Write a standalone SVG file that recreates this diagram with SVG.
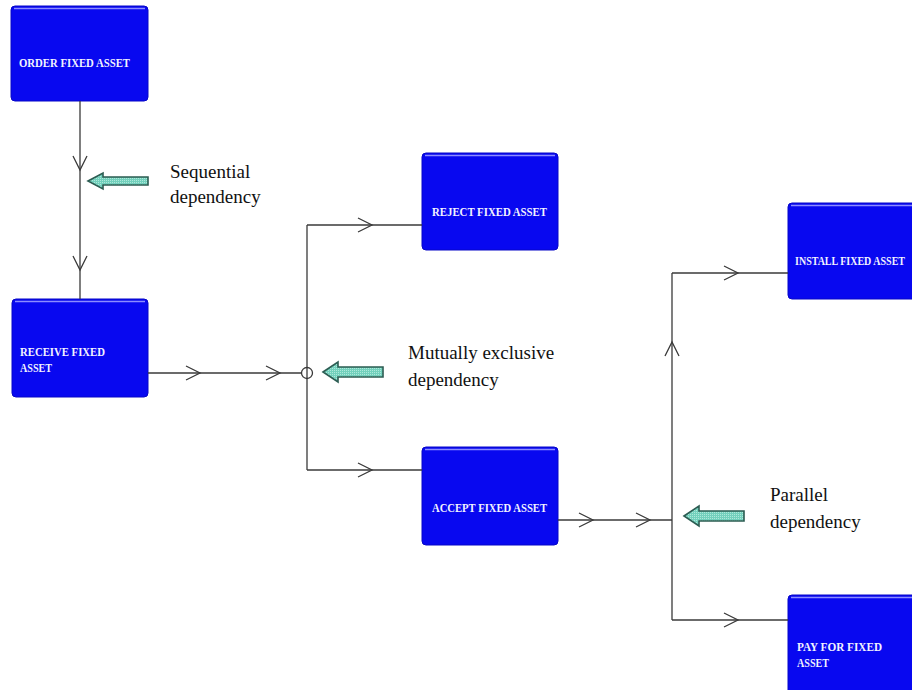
<svg xmlns="http://www.w3.org/2000/svg" width="912" height="690" viewBox="0 0 912 690">
  <style>
    .box { fill: #0808f0; stroke: #0606c8; stroke-width: 1; }
    .hl { stroke: #8c8cff; stroke-width: 1.6; }
    .bt { font-family: "Liberation Serif", "Times New Roman", serif; font-weight: bold; font-size: 13px; fill: #f2f2ff; }
    .lbl { font-family: "Liberation Serif", "Times New Roman", serif; font-size: 19px; fill: #111; }
    .ln { stroke: #3a3a3a; stroke-width: 1.3; fill: none; }
    .ch { stroke: #3a3a3a; stroke-width: 1.3; fill: none; stroke-linejoin: miter; }
    .dep { fill: url(#dots); stroke: #2c5c52; stroke-width: 1.6; stroke-linejoin: miter; }
  </style>

  <defs>
    <!-- stippled teal fill for the callout arrows -->
    <pattern id="dots" width="2" height="2" patternUnits="userSpaceOnUse">
      <rect width="2" height="2" fill="#72d0bc"/>
      <rect width="1" height="1" fill="#aee8da"/>
    </pattern>
  </defs>

  <rect width="912" height="690" fill="#ffffff"/>

  <!-- activity boxes -->
  <g id="order">
    <rect class="box" x="11" y="6" width="137" height="95" rx="4"/>
    <line class="hl" x1="14" y1="8.5" x2="145" y2="8.5"/>
    <text class="bt" x="19" y="67" textLength="111" lengthAdjust="spacingAndGlyphs">ORDER FIXED ASSET</text>
  </g>

  <g id="receive">
    <rect class="box" x="12" y="299" width="136" height="98" rx="4"/>
    <line class="hl" x1="15" y1="301.5" x2="145" y2="301.5"/>
    <text class="bt" x="20" y="356" textLength="85" lengthAdjust="spacingAndGlyphs">RECEIVE FIXED</text>
    <text class="bt" x="20" y="372" textLength="32" lengthAdjust="spacingAndGlyphs">ASSET</text>
  </g>

  <g id="reject">
    <rect class="box" x="422" y="153" width="136" height="97" rx="4"/>
    <line class="hl" x1="425" y1="155.5" x2="555" y2="155.5"/>
    <text class="bt" x="432" y="216" textLength="115" lengthAdjust="spacingAndGlyphs">REJECT FIXED ASSET</text>
  </g>

  <g id="accept">
    <rect class="box" x="422" y="447" width="136" height="98" rx="4"/>
    <line class="hl" x1="425" y1="449.5" x2="555" y2="449.5"/>
    <text class="bt" x="432" y="512" textLength="115" lengthAdjust="spacingAndGlyphs">ACCEPT FIXED ASSET</text>
  </g>

  <g id="install">
    <rect class="box" x="788" y="203" width="140" height="96" rx="4"/>
    <line class="hl" x1="791" y1="205.5" x2="925" y2="205.5"/>
    <text class="bt" x="795" y="265" textLength="110" lengthAdjust="spacingAndGlyphs">INSTALL FIXED ASSET</text>
  </g>

  <g id="pay">
    <rect class="box" x="788" y="595" width="140" height="100" rx="4"/>
    <line class="hl" x1="791" y1="597.5" x2="925" y2="597.5"/>
    <text class="bt" x="797" y="651" textLength="85" lengthAdjust="spacingAndGlyphs">PAY FOR FIXED</text>
    <text class="bt" x="797" y="667" textLength="32" lengthAdjust="spacingAndGlyphs">ASSET</text>
  </g>

  <!-- connectors with open chevron heads -->
  <g id="connectors">
    <!-- order -> receive -->
    <line class="ln" x1="80" y1="101" x2="80" y2="299"/>
    <polyline class="ch" points="73,156 80,170 87,156"/>
    <polyline class="ch" points="73,256 80,270 87,256"/>

    <!-- receive -> exclusive junction -->
    <line class="ln" x1="148" y1="373" x2="302" y2="373"/>
    <polyline class="ch" points="186,366 200,373 186,380"/>
    <polyline class="ch" points="266,366 280,373 266,380"/>
    <circle cx="307" cy="373" r="5.5" fill="#ffffff" stroke="#3a3a3a" stroke-width="1.3"/>
    <line class="ln" x1="307" y1="225" x2="307" y2="470"/>

    <!-- junction -> reject -->
    <line class="ln" x1="307" y1="225" x2="422" y2="225"/>
    <polyline class="ch" points="358,218 372,225 358,232"/>

    <!-- junction -> accept -->
    <line class="ln" x1="307" y1="470" x2="422" y2="470"/>
    <polyline class="ch" points="358,463 372,470 358,477"/>

    <!-- accept -> parallel fork -->
    <line class="ln" x1="558" y1="520" x2="672" y2="520"/>
    <polyline class="ch" points="579,513 593,520 579,527"/>
    <polyline class="ch" points="636,513 650,520 636,527"/>
    <line class="ln" x1="672" y1="273" x2="672" y2="620"/>
    <polyline class="ch" points="665,356 672,342 679,356"/>

    <!-- fork -> install -->
    <line class="ln" x1="672" y1="273" x2="788" y2="273"/>
    <polyline class="ch" points="724,266 738,273 724,280"/>

    <!-- fork -> pay -->
    <line class="ln" x1="672" y1="620" x2="788" y2="620"/>
    <polyline class="ch" points="724,613 738,620 724,627"/>
  </g>

  <!-- dependency callouts -->
  <g id="sequential-note">
    <polygon class="dep" points="88,181 103,173 103,177 148,177 148,185 103,185 103,189"/>
    <text class="lbl" x="170" y="178">Sequential</text>
    <text class="lbl" x="170" y="203">dependency</text>
  </g>

  <g id="exclusive-note">
    <polygon class="dep" points="323,372 338,362 338,367 383,367 383,377 338,377 338,382"/>
    <text class="lbl" x="408" y="359">Mutually exclusive</text>
    <text class="lbl" x="408" y="386">dependency</text>
  </g>

  <g id="parallel-note">
    <polygon class="dep" points="684,516 699,506 699,511 744,511 744,521 699,521 699,526"/>
    <text class="lbl" x="770" y="501">Parallel</text>
    <text class="lbl" x="770" y="528">dependency</text>
  </g>
</svg>
